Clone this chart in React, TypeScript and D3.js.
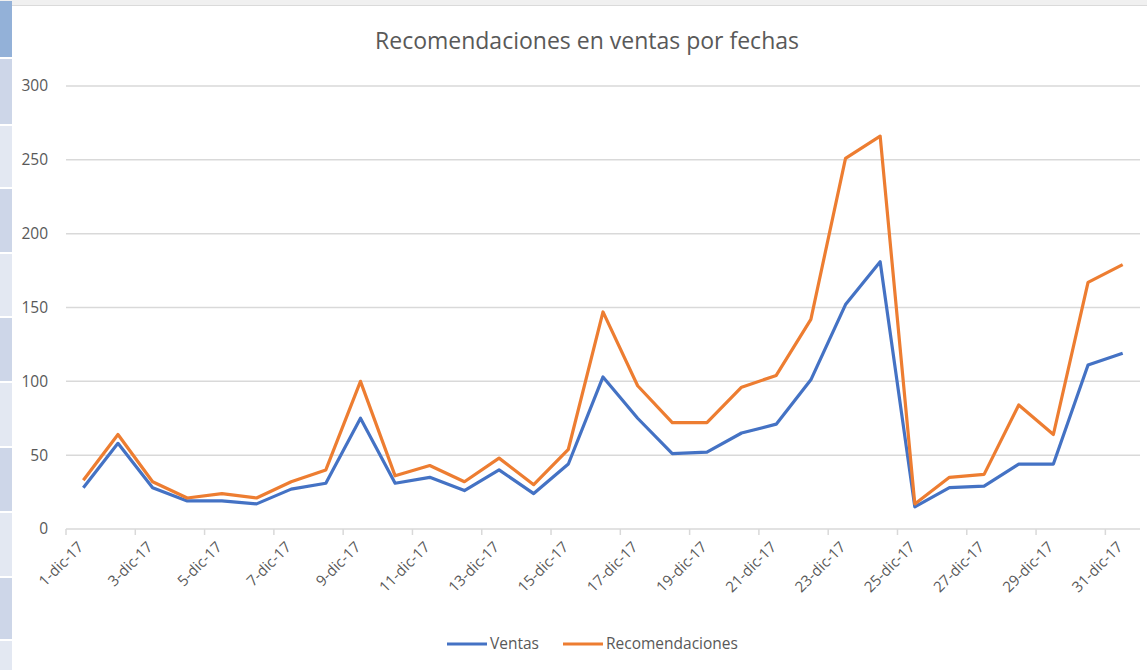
import React, { useRef, useEffect } from 'react';
import * as d3 from 'd3';

const days = d3.range(1, 32).map((d) => `${d}-dic-17`);
const ventas = [28, 58, 28, 19, 19, 17, 27, 31, 75, 31, 35, 26, 40, 24, 44, 103, 75, 51, 52, 65, 71, 101, 152, 181, 15, 28, 29, 44, 44, 111, 119];
const recomendaciones = [33, 64, 32, 21, 24, 21, 32, 40, 100, 36, 43, 32, 48, 30, 54, 147, 97, 72, 72, 96, 104, 142, 251, 266, 17, 35, 37, 84, 64, 167, 179];
const yTicks = [0, 50, 100, 150, 200, 250, 300];
const seriesNames = ['Ventas', 'Recomendaciones'];
const colors = ['#4472c4', '#ed7d31'];

const W = 1147;
const H = 671;

const App = () => {
  const svgRef = useRef<SVGSVGElement>(null);

  useEffect(() => {
    const svg = d3.select(svgRef.current);
    svg.selectAll('*').remove();
    svg.attr('width', W).attr('height', H);

    const font = 'Open Sans, Noto Sans, sans-serif';
    const textColor = '#595959';

    svg.append('rect').attr('width', W).attr('height', H).attr('fill', '#fff');

    // spreadsheet remnants: top strip and row headers on the left
    svg.append('rect').attr('x', 0).attr('y', 0).attr('width', W).attr('height', 5).attr('fill', '#f0f0f0');
    svg.append('line').attr('x1', 0).attr('x2', W).attr('y1', 5.5).attr('y2', 5.5).attr('stroke', '#dadada');
    const rowEdges = [0, 58, 125, 188, 253, 317, 382, 447, 512, 577, 640, 671];
    svg.append('g')
      .selectAll('rect')
      .data(rowEdges.slice(0, -1))
      .join('rect')
      .attr('x', 0)
      .attr('y', (d) => d + 1)
      .attr('width', 12)
      .attr('height', (d, i) => rowEdges[i + 1] - d - 2)
      .attr('fill', (d, i) => (i === 0 ? '#93b1d8' : i % 2 === 1 ? '#cdd6e8' : '#e3e8f2'));

    const margin = { top: 86, right: 1147 - 1140, bottom: 671 - 529, left: 66 };
    const innerW = W - margin.left - margin.right;
    const innerH = H - margin.top - margin.bottom;

    const g = svg.append('g').attr('transform', `translate(${margin.left},${margin.top})`);

    const x = d3.scaleBand().domain(days).range([0, innerW]);
    const y = d3.scaleLinear().domain([0, 300]).range([innerH, 0]);

    // gridlines
    g.append('g')
      .selectAll('line')
      .data(yTicks)
      .join('line')
      .attr('x1', 0)
      .attr('x2', innerW)
      .attr('y1', (d) => y(d))
      .attr('y2', (d) => y(d))
      .attr('stroke', '#d9d9d9')
      .attr('stroke-width', 1.5);

    // y labels
    g.append('g')
      .selectAll('text')
      .data(yTicks)
      .join('text')
      .attr('x', -18)
      .attr('y', (d) => y(d))
      .attr('dy', '0.35em')
      .attr('text-anchor', 'end')
      .attr('font-family', font)
      .attr('font-size', 15.5)
      .attr('fill', textColor)
      .text((d) => d);

    // x tick marks at every other category boundary
    const tickIdx = d3.range(0, days.length + 1, 2);
    g.append('g')
      .selectAll('line')
      .data(tickIdx)
      .join('line')
      .attr('x1', (i) => (i < days.length ? x(days[i]) : innerW))
      .attr('x2', (i) => (i < days.length ? x(days[i]) : innerW))
      .attr('y1', innerH)
      .attr('y2', innerH + 6)
      .attr('stroke', '#d9d9d9')
      .attr('stroke-width', 1.5);

    // x labels
    g.append('g')
      .selectAll('text')
      .data(days.filter((d, i) => i % 2 === 0))
      .join('text')
      .attr('transform', (d) => `translate(${x(d) + x.bandwidth() / 2 + 1},${innerH + 19}) rotate(-45)`)
      .attr('text-anchor', 'end')
      .attr('font-family', font)
      .attr('font-size', 15)
      .attr('fill', textColor)
      .text((d) => d);

    // lines
    const line = d3.line<number>()
      .x((d, i) => x(days[i]) + x.bandwidth() / 2)
      .y((d) => y(d));

    [ventas, recomendaciones].forEach((s, k) => {
      g.append('path')
        .datum(s)
        .attr('d', line)
        .attr('fill', 'none')
        .attr('stroke', colors[k])
        .attr('stroke-width', 3.2)
        .attr('stroke-linejoin', 'round');
    });

    // title
    svg.append('text')
      .attr('x', 587)
      .attr('y', 49)
      .attr('text-anchor', 'middle')
      .attr('font-family', font)
      .attr('font-size', 23)
      .attr('fill', textColor)
      .text('Recomendaciones en ventas por fechas');

    // legend
    const legendX = [447, 563];
    const legend = svg.append('g');
    seriesNames.forEach((name, k) => {
      legend.append('line')
        .attr('x1', legendX[k])
        .attr('x2', legendX[k] + 40)
        .attr('y1', 644)
        .attr('y2', 644)
        .attr('stroke', colors[k])
        .attr('stroke-width', 3.2);
      legend.append('text')
        .attr('x', legendX[k] + 43)
        .attr('y', 644)
        .attr('dy', '0.35em')
        .attr('font-family', font)
        .attr('font-size', 15.5)
        .attr('fill', textColor)
        .text(name);
    });
  }, []);

  return (
    <div style={{ position: 'absolute', left: 0, top: 0 }}>
      <svg ref={svgRef} style={{ display: 'block' }} />
    </div>
  );
};

export default App;
